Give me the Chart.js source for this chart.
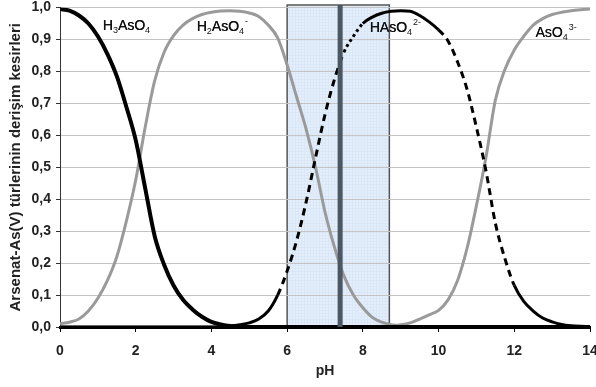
<!DOCTYPE html>
<html><head><meta charset="utf-8">
<script src="https://cdn.jsdelivr.net/npm/chart.js@4/dist/chart.umd.min.js"></script>
<style>html,body{margin:0;padding:0;background:#fff;}#wrap{width:596px;height:387px;position:relative;}</style>
</head><body><div id="wrap"><canvas id="c"></canvas></div>
<script>
const pH = [0,0.25,0.5,0.75,1,1.25,1.5,1.75,2,2.25,2.5,2.75,3,3.25,3.5,3.75,4,4.25,4.5,4.75,5,5.25,5.5,5.75,6,6.25,6.5,6.75,7,7.25,7.5,7.75,8,8.25,8.5,8.75,9,9.25,9.5,9.75,10,10.25,10.5,10.75,11,11.25,11.5,11.75,12,12.25,12.5,12.75,13,13.25,13.5,13.75,14];
const h3aso4 = [0.995,0.99,0.975,0.95,0.91,0.855,0.785,0.69,0.585,0.435,0.285,0.195,0.13,0.085,0.055,0.032,0.016,0.008,0.003,0.001,
  0,0,0,0,0,0,0,0,0,0,0,0,0,0,0,0,0,0,0,0,0,0,0,0,0,0,0,0,0,0,0,0,0,0,0,0,0];
const h2aso4 = [0.01,0.015,0.025,0.05,0.09,0.145,0.22,0.33,0.46,0.625,0.77,0.86,0.912,0.945,0.965,0.978,0.985,0.989,0.99,0.988,0.983,0.972,0.945,0.905,0.82,0.72,0.62,0.5,0.36,0.25,0.16,0.1,0.06,0.03,0.015,0.007,0.003,0.001,
  0,0,0,0,0,0,0,0,0,0,0,0,0,0,0,0,0,0,0];
const haso4 = [0,0,0,0,0,0,0,0,0,0,0,0,0,0,0,0,0,
  0.001,0.003,0.007,0.013,0.025,0.05,0.1,0.175,0.27,0.39,0.53,0.665,0.775,0.86,0.91,0.95,0.97,0.982,0.988,0.99,0.988,0.975,0.955,0.93,0.895,0.83,0.745,0.625,0.49,0.325,0.215,0.13,0.08,0.05,0.028,0.016,0.008,0.004,0.002,0.001];
const aso4 = [0,0,0,0,0,0,0,0,0,0,0,0,0,0,0,0,0,0,0,0,0,0,0,0,0,0,0,0,0,0,0,0,0,0,
  0.002,0.004,0.007,0.013,0.025,0.038,0.052,0.085,0.145,0.245,0.38,0.53,0.71,0.805,0.867,0.91,0.945,0.965,0.978,0.985,0.99,0.993,0.995];
const yTickLabels = ['0,0','0,1','0,2','0,3','0,4','0,5','0,6','0,7','0,8','0,9','1,0'];
const xTickLabels = ['0','2','4','6','8','10','12','14'];
const shadeRange = [6.0, 8.7];
const markerPH = 7.4;
// species labels: [parts], anchor pH, anchor value
const speciesLabels = [
  {parts:[['H','n'],['3','b'],['AsO','n'],['4','b']], x:1.13, y:0.93},
  {parts:[['H','n'],['2','b'],['AsO','n'],['4','b'],['-','p']], x:3.61, y:0.925},
  {parts:[['HAsO','n'],['4','b'],['2-','p']], x:8.18, y:0.923},
  {parts:[['AsO','n'],['4','b'],['3-','p']], x:12.56, y:0.909}
];
const yTitle = 'Arsenat-As(V) türlerinin derişim kesirleri';
const xTitle = 'pH';

const FF = "'Liberation Sans', Arial, sans-serif";
const toXY = arr => arr.map((v,i)=>({x:pH[i], y:v}));

const decor = {
  id:'decor',
  beforeDraw(chart){
    const {ctx, scales:{x,y}} = chart;
    const x0 = x.getPixelForValue(shadeRange[0]), x1 = x.getPixelForValue(shadeRange[1]);
    const top = y.getPixelForValue(1) - 2.5, bot = y.getPixelForValue(0);
    ctx.save();
    ctx.fillStyle = '#e4effb';
    ctx.fillRect(x0, top, x1-x0, bot-top);
    ctx.strokeStyle = '#d9e7f6'; ctx.lineWidth = 1;
    for (let xx = x0+2; xx < x1; xx += 3){ ctx.beginPath(); ctx.moveTo(Math.round(xx)+0.5, top); ctx.lineTo(Math.round(xx)+0.5, bot); ctx.stroke(); }
    for (let yy = top+2; yy < bot; yy += 3){ ctx.beginPath(); ctx.moveTo(x0, Math.round(yy)+0.5); ctx.lineTo(x1, Math.round(yy)+0.5); ctx.stroke(); }
    ctx.strokeStyle = '#555'; ctx.lineWidth = 1.5;
    ctx.strokeRect(x0, top, x1-x0, bot-top);
    ctx.restore();
  },
  afterDatasetsDraw(chart){
    const {ctx, scales:{x,y}} = chart;
    const xm = x.getPixelForValue(markerPH);
    const top = y.getPixelForValue(1) - 2.5, bot = y.getPixelForValue(0);
    ctx.save();
    ctx.fillStyle = '#4b5864';
    ctx.fillRect(xm-2.5, top, 5, bot-top);
    // species labels
    ctx.fillStyle = '#111';
    ctx.textBaseline = 'alphabetic';
    speciesLabels.forEach(l=>{
      let px = x.getPixelForValue(l.x); const py = y.getPixelForValue(l.y);
      l.parts.forEach(([t,k])=>{
        if (k==='n'){ ctx.font = '14px '+FF; ctx.fillText(t, px, py); ctx.fillText(t, px+0.3, py); }
        else if (k==='b'){ ctx.font = '9px '+FF; ctx.fillText(t, px, py+3); }
        else { ctx.font = '9px '+FF; ctx.fillText(t, px+1, py-7); }
        px += ctx.measureText(t).width + (k==='p'?1:0);
      });
    });
    ctx.restore();
  }
};

new Chart(document.getElementById('c'), {
  type:'line',
  data:{ datasets:[
    {label:'HAsO4', data:toXY(haso4), borderColor:'#000', borderWidth:3, borderCapStyle:'butt',
      segment:{ borderDash: ctx => { const v = pH[ctx.p0DataIndex];
        if (v>=5.75 && v<7.5) return [7,5];
        if (v>=7.5 && v<8) return [3,3];
        if (v>=10 && v<12) return [7,5];
        return undefined; } } },
    {label:'H3AsO4', data:toXY(h3aso4), borderColor:'#000', borderWidth:4},
    {label:'H2AsO4', data:toXY(h2aso4), borderColor:'#9a9a9a', borderWidth:3},
    {label:'AsO4', data:toXY(aso4), borderColor:'#9a9a9a', borderWidth:3}
  ]},
  options:{
    responsive:true, maintainAspectRatio:false, animation:false,
    devicePixelRatio:1,
    layout:{padding:{top:7.5, right:6, left:0, bottom:0}},
    elements:{ point:{radius:0}, line:{cubicInterpolationMode:'monotone', fill:false} },
    plugins:{ legend:{display:false}, tooltip:{enabled:false} },
    scales:{
      x:{ type:'linear', min:0, max:14,
        ticks:{ stepSize:2, color:'#222', font:{family:FF, size:14, weight:'bold'}, padding:11, maxRotation:0,
          callback:v=> xTickLabels[v/2] },
        grid:{ drawOnChartArea:false, drawTicks:true, tickLength:5, tickColor:'#000', tickWidth:1 },
        border:{ display:true, color:'#000', width:3 },
        title:{ display:true, text:xTitle, color:'#222', font:{family:FF, size:14, weight:'bold'}, padding:{top:0,bottom:7} },
        afterFit:s=>{ s.height = 60; s.paddingLeft = 0; s.paddingRight = 0; }
      },
      y:{ min:0, max:1,
        ticks:{ stepSize:0.1, color:'#222', font:{family:FF, size:14, weight:'bold'}, padding:5,
          callback:v=> yTickLabels[Math.round(v*10)] },
        grid:{ color:'#c4c4c4', lineWidth:1, tickLength:4, tickColor:'#333' },
        border:{ display:true, color:'#333', width:1 },
        title:{ display:true, text:yTitle, color:'#222', font:{family:FF, size:15, weight:'bold'}, padding:{top:7,bottom:0} },
        afterFit:s=>{ s.width = 60; s.paddingTop = 0; s.paddingBottom = 0; }
      }
    }
  },
  plugins:[decor]
});
</script></body></html>
